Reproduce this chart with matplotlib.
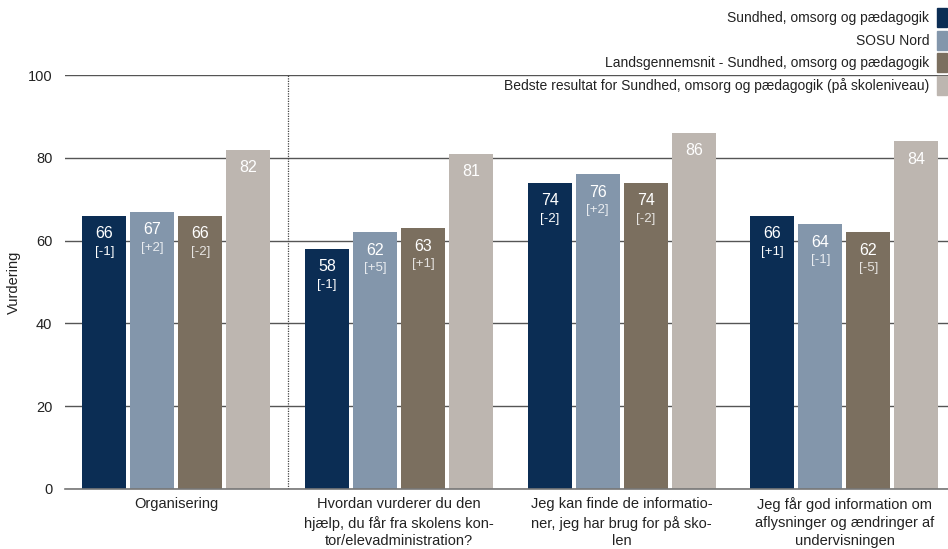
import matplotlib
matplotlib.use("Agg")
import matplotlib.pyplot as plt
from matplotlib.patches import Rectangle
import numpy as np

categories = [
    "Organisering",
    "Hvordan vurderer du den\nhjælp, du får fra skolens kon-\ntor/elevadministration?",
    "Jeg kan finde de informatio-\nner, jeg har brug for på sko-\nlen",
    "Jeg får god information om\naflysninger og ændringer af\nundervisningen",
]
series_names = [
    "Sundhed, omsorg og pædagogik",
    "SOSU Nord",
    "Landsgennemsnit - Sundhed, omsorg og pædagogik",
    "Bedste resultat for Sundhed, omsorg og pædagogik (på skoleniveau)",
]
s1 = [66, 58, 74, 66]
s2 = [67, 62, 76, 64]
s3 = [66, 63, 74, 62]
s4 = [82, 81, 86, 84]
d1 = ["[-1]", "[-1]", "[-2]", "[+1]"]
d2 = ["[+2]", "[+5]", "[+2]", "[-1]"]
d3 = ["[-2]", "[+1]", "[-2]", "[-5]"]
d4 = [None, None, None, None]
yticks = [0, 20, 40, 60, 80, 100]

colors = ["#0b2d54", "#8396ab", "#7b6f5f", "#bdb6b0"]
series = [s1, s2, s3, s4]
deltas = [d1, d2, d3, d4]

plt.rcParams['font.family'] = ['Liberation Sans', 'DejaVu Sans']
W, H = 948, 549
fig = plt.figure(figsize=(W / 100, H / 100), dpi=100)
ax_l, ax_r, ax_t, ax_b = 65, 948, 75, 489
ax = fig.add_axes([ax_l / W, 1 - ax_b / H, (ax_r - ax_l) / W, (ax_b - ax_t) / H])

x = np.arange(len(categories))
step = 0.2155
width = 0.1976
for i, (vals, col, dl) in enumerate(zip(series, colors, deltas)):
    xs = x + (i - 1.5) * step
    ax.bar(xs, vals, width=width, color=col, zorder=3)
    for xi, v, d in zip(xs, vals, dl):
        ax.annotate(str(v), (xi, v), xytext=(0, -18), textcoords="offset pixels",
                    ha="center", va="center", color="white", fontsize=11.5, zorder=4)
        if d is not None:
            tc = "white" if i == 0 else (1, 1, 1, 0.82)
            ax.annotate(d, (xi, v), xytext=(0, -36), textcoords="offset pixels",
                        ha="center", va="center", color=tc, fontsize=9.5, zorder=4)

ax.set_xlim(-0.5, (ax_r - ax_l) / 222.7 - 0.5)
ax.set_ylim(0, 100)
ax.set_yticks(yticks)
ax.set_yticklabels([str(t) for t in yticks], fontsize=10.5, color="#222222")
ax.tick_params(axis="y", length=0, pad=9)
ax.set_xticks(x)
ax.set_xticklabels(categories, fontsize=10.5, color="#222222", linespacing=1.35)
ax.tick_params(axis="x", length=0, pad=6)
ax.yaxis.grid(True, color="#555555", linewidth=1, zorder=0)
ax.set_axisbelow(True)
for s in ["top", "right", "left"]:
    ax.spines[s].set_visible(False)
ax.spines["bottom"].set_color("#777777")
ax.spines["bottom"].set_linewidth(1.2)
ax.spines["bottom"].set_zorder(5)
ax.axvline(0.5, color="#444444", linestyle=(0, (1, 1)), linewidth=0.9, zorder=2)
ax.set_ylabel("Vurdering", fontsize=10.5, color="#222222")
ax.yaxis.set_label_coords(-44 / (ax_r - ax_l), 0.5)

# legend
rows_y = [18, 41, 63, 86]
for name, col, yy in zip(series_names, colors, rows_y):
    fig.text(929 / W, 1 - yy / H, name, ha="right", va="center", fontsize=10, color="#222222")
    fig.patches.append(Rectangle(((937) / W, 1 - (yy + 9) / H), 10 / W, 19 / H,
                                 transform=fig.transFigure, color=col, figure=fig))

fig.savefig("out.png", dpi=100)
